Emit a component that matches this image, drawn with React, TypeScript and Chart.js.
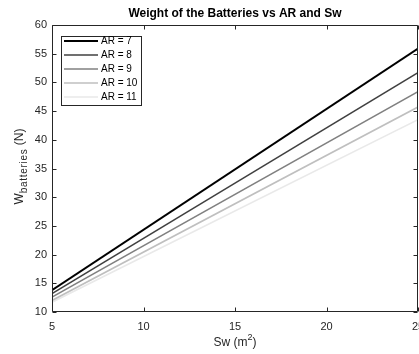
import { useEffect, useRef } from "react";
import { Chart, registerables } from "chart.js";

Chart.register(...registerables);

// Wing area Sw (m²) at the ends of each straight line
const wingArea = [5, 25];

// Battery weight (N) for each aspect ratio
const weightAR7 = [13.8, 55.9];
const weightAR8 = [13.2, 51.7];
const weightAR9 = [12.6, 48.4];
const weightAR10 = [12.0, 45.7];
const weightAR11 = [11.7, 43.5];

const seriesLabels = ["AR = 7", "AR = 8", "AR = 9", "AR = 10", "AR = 11"];
const seriesValues = [weightAR7, weightAR8, weightAR9, weightAR10, weightAR11];
const lineColors = ["#000000", "#404040", "#808080", "#bfbfbf", "#e9e9e9"];
const lineWidths = [2, 1.6, 1.6, 1.6, 1.6];

const titleText = "Weight of the Batteries vs AR and Sw";
const FONT = "'Liberation Sans', Arial, Helvetica, sans-serif";
const AXIS_COLOR = "#262626";

const framePlugin = {
  id: "matlabFrame",
  afterDraw(chart: any) {
    const { ctx, chartArea: a, scales } = chart;
    const xs = scales.x;
    const ys = scales.y;
    ctx.save();

    // axes box with inward ticks on all four sides
    ctx.strokeStyle = AXIS_COLOR;
    ctx.lineWidth = 1;
    const L = Math.round(a.left) + 0.5;
    const R = Math.round(a.right) - 0.5;
    const T = Math.round(a.top) + 0.5;
    const B = Math.round(a.bottom) - 0.5;
    ctx.beginPath();
    ctx.rect(L, T, R - L, B - T);
    const tl = 4;
    xs.ticks.forEach((t: any) => {
      const px = Math.round(xs.getPixelForValue(t.value)) + 0.5;
      ctx.moveTo(px, B);
      ctx.lineTo(px, B - tl);
      ctx.moveTo(px, T);
      ctx.lineTo(px, T + tl);
    });
    ys.ticks.forEach((t: any) => {
      const py = Math.round(ys.getPixelForValue(t.value)) + 0.5;
      ctx.moveTo(L, py);
      ctx.lineTo(L + tl, py);
      ctx.moveTo(R, py);
      ctx.lineTo(R - tl, py);
    });
    ctx.stroke();

    const cx = (a.left + a.right) / 2;
    const cy = (a.top + a.bottom) / 2;

    // title
    ctx.fillStyle = "#000000";
    ctx.font = `bold 12px ${FONT}`;
    ctx.textAlign = "center";
    ctx.textBaseline = "middle";
    ctx.fillText(titleText, cx, 14);

    // x-axis label: Sw (m²)
    ctx.fillStyle = AXIS_COLOR;
    ctx.textAlign = "left";
    const mainFont = `12px ${FONT}`;
    const supFont = `9px ${FONT}`;
    const xParts = [
      { text: "Sw (m", font: mainFont, dy: 0 },
      { text: "2", font: supFont, dy: -5 },
      { text: ")", font: mainFont, dy: 0 },
    ];
    let total = 0;
    xParts.forEach((p) => {
      ctx.font = p.font;
      total += ctx.measureText(p.text).width;
    });
    let x0 = cx - total / 2;
    xParts.forEach((p) => {
      ctx.font = p.font;
      ctx.fillText(p.text, x0, 343 + p.dy);
      x0 += ctx.measureText(p.text).width;
    });

    // y-axis label: W_batteries (N)
    const yParts = [
      { text: "W", font: mainFont, dy: 0, spacing: "0px" },
      { text: "batteries", font: `10px ${FONT}`, dy: 4.5, spacing: "0.7px" },
      { text: " (N)", font: mainFont, dy: 0, spacing: "0px" },
    ];
    total = 0;
    yParts.forEach((p) => {
      ctx.font = p.font;
      (ctx as any).letterSpacing = p.spacing;
      total += ctx.measureText(p.text).width;
    });
    ctx.translate(19.5, cy - 2);
    ctx.rotate(-Math.PI / 2);
    let s = -total / 2;
    yParts.forEach((p) => {
      ctx.font = p.font;
      (ctx as any).letterSpacing = p.spacing;
      ctx.fillText(p.text, s, p.dy);
      s += ctx.measureText(p.text).width;
    });
    (ctx as any).letterSpacing = "0px";
    ctx.setTransform(1, 0, 0, 1, 0, 0);

    // legend box in the upper-left corner
    const lx = 61.5;
    const ly = 36.5;
    const lw = 80;
    const lh = 69;
    ctx.fillStyle = "#ffffff";
    ctx.fillRect(lx, ly, lw, lh);
    ctx.strokeStyle = AXIS_COLOR;
    ctx.lineWidth = 1;
    ctx.strokeRect(lx, ly, lw, lh);
    ctx.font = `10px ${FONT}`;
    ctx.textBaseline = "middle";
    ctx.textAlign = "left";
    chart.data.datasets.forEach((ds: any, i: number) => {
      const ry = 41 + i * 14;
      ctx.strokeStyle = ds.borderColor;
      ctx.lineWidth = ds.borderWidth;
      ctx.beginPath();
      ctx.moveTo(64, ry);
      ctx.lineTo(98, ry);
      ctx.stroke();
      ctx.fillStyle = "#000000";
      ctx.fillText(ds.label, 101, ry + 0.5);
    });

    ctx.restore();
  },
};

export default function App() {
  const canvasRef = useRef<HTMLCanvasElement | null>(null);

  useEffect(() => {
    document.body.style.margin = "0";
    const canvas = canvasRef.current;
    if (!canvas) return;

    const datasets = seriesLabels.map((label, i) => ({
      label,
      data: wingArea.map((x, j) => ({ x, y: seriesValues[i][j] })),
      borderColor: lineColors[i],
      backgroundColor: lineColors[i],
      borderWidth: lineWidths[i],
      pointRadius: 0,
      fill: false,
      tension: 0,
      order: i,
    }));

    const chart = new Chart(canvas, {
      type: "line",
      data: { datasets: datasets as any },
      options: {
        animation: false,
        responsive: false,
        layout: { padding: { top: 25, right: 1, left: 0, bottom: 0 } },
        plugins: {
          legend: { display: false },
          title: { display: false },
          tooltip: { enabled: false },
        },
        scales: {
          x: {
            type: "linear",
            min: 5,
            max: 25,
            grid: { display: false, drawTicks: false },
            border: { display: false },
            ticks: {
              stepSize: 5,
              padding: 8,
              maxRotation: 0,
              color: AXIS_COLOR,
              font: { family: FONT, size: 11 },
            },
            afterFit(scale: any) {
              scale.height = 42;
              scale.paddingLeft = 0;
              scale.paddingRight = 0;
            },
          },
          y: {
            type: "linear",
            min: 10,
            max: 60,
            grid: { display: false, drawTicks: false },
            border: { display: false },
            ticks: {
              stepSize: 5,
              padding: 5,
              color: AXIS_COLOR,
              font: { family: FONT, size: 11 },
            },
            afterFit(scale: any) {
              scale.width = 52;
              scale.paddingTop = 0;
              scale.paddingBottom = 0;
            },
          },
        },
      },
      plugins: [framePlugin],
    });

    return () => chart.destroy();
  }, []);

  return (
    <div style={{ width: 419, height: 354 }}>
      <canvas ref={canvasRef} width={419} height={354} />
    </div>
  );
}
